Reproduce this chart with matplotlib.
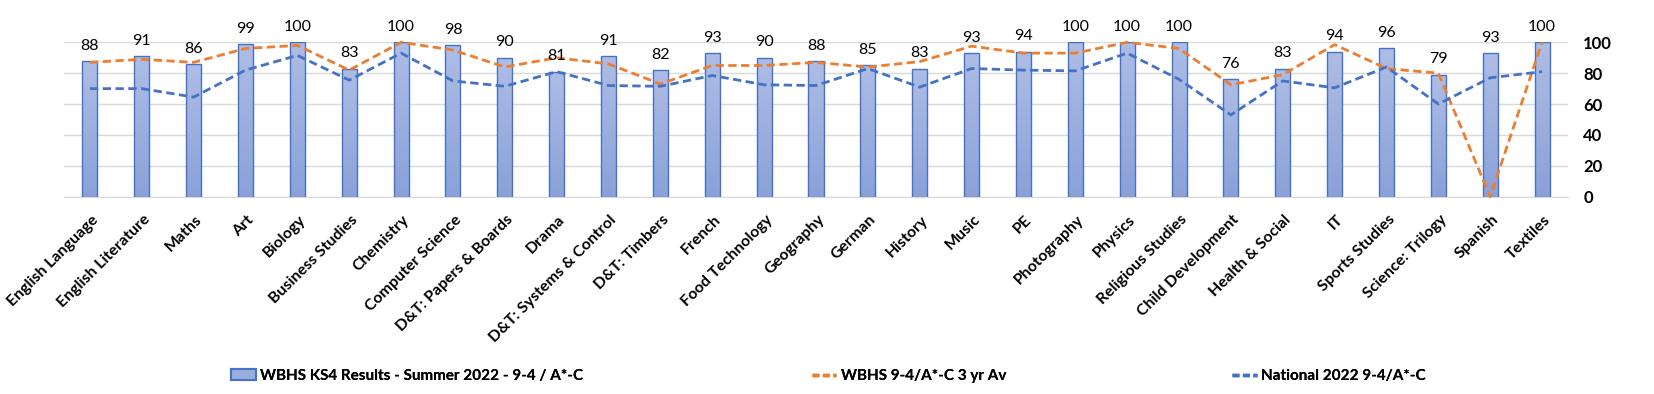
import matplotlib.pyplot as plt
from matplotlib.colors import LinearSegmentedColormap
from matplotlib.lines import Line2D
from matplotlib.patches import Patch
from matplotlib.transforms import ScaledTranslation
import numpy as np

subjects = ["English Language", "English Literature", "Maths", "Art", "Biology",
            "Business Studies", "Chemistry", "Computer Science", "D&T: Papers & Boards",
            "Drama", "D&T: Systems & Control", "D&T: Timbers", "French", "Food Technology",
            "Geography", "German", "History", "Music", "PE", "Photography", "Physics",
            "Religious Studies", "Child Development", "Health & Social", "IT",
            "Sports Studies", "Science: Trilogy", "Spanish", "Textiles"]
results_2022 = [88, 91, 86, 99, 100, 83, 100, 98, 90, 81, 91, 82, 93, 90, 88, 85, 83,
                93, 94, 100, 100, 100, 76, 83, 94, 96, 79, 93, 100]
wbhs_3yr = [87, 89, 87, 96, 98, 82, 100, 95, 84, 90, 86, 73, 85, 85, 87, 84, 87.5,
            97.5, 93, 93, 100, 96, 72.5, 79, 98.5, 83, 80, 0, 100]
national_2022 = [70, 70, 64.5, 82, 91.5, 75.5, 93, 75, 71.5, 81, 72, 71.5, 78.5, 72.5,
                 72, 83, 71, 83, 82, 81.5, 93, 76, 53, 75, 70.5, 84, 60, 77, 81]

series_names = ["WBHS KS4 Results - Summer 2022 - 9-4 / A*-C", "WBHS 9-4/A*-C 3 yr Av",
                "National 2022 9-4/A*-C"]

font = "Lato"

fig = plt.figure(figsize=(16.54, 3.94), dpi=100)
ax = fig.add_axes([0.0387, 0.5008, 0.9093, 0.3918])

x = np.arange(len(subjects))
bars = ax.bar(x, results_2022, width=0.29, color="#9aaedd", edgecolor="#4472c4",
              linewidth=1.0, zorder=2)

# vertical gradient inside each bar, like the Excel fill
grad = np.linspace(0, 1, 256).reshape(-1, 1)
cmap = LinearSegmentedColormap.from_list("barfill", ["#aebde5", "#8aa1d8"])
for b in bars:
    bx, by = b.get_x(), b.get_y()
    img = ax.imshow(grad, extent=(bx, bx + b.get_width(), by, by + b.get_height()),
                    aspect="auto", cmap=cmap, origin="upper", zorder=2.1)
    img.set_clip_path(b)
    b.set_facecolor("none")
    b.set_zorder(2.2)

ax.plot(x, wbhs_3yr, color="#ed7d31", linestyle=(0, (3, 1.6)), linewidth=2, zorder=3,
        clip_on=False)
ax.plot(x, national_2022, color="#4472c4", linestyle=(0, (3, 1.6)), linewidth=2, zorder=3)

for xi, v in zip(x, results_2022):
    ax.annotate(f"{v}", (xi, v), xytext=(0, 6), textcoords="offset points",
                ha="center", va="bottom", fontsize=11.5, family=font,
                annotation_clip=False)

ax.set_xlim(-0.5, len(subjects) - 0.5)
ax.set_ylim(0, 100)
ax.set_yticks(range(0, 101, 20))
ax.yaxis.tick_right()
ax.tick_params(axis="y", length=0, pad=11, labelsize=12)
for t in ax.get_yticklabels():
    t.set_fontweight("bold")
    t.set_family(font)
ax.yaxis.grid(True, color="#d9d9d9", linewidth=1)
ax.set_axisbelow(True)
for s in ["top", "left", "right"]:
    ax.spines[s].set_visible(False)
ax.spines["bottom"].set_color("#d9d9d9")

ax.set_xticks(x)
ax.set_xticklabels(subjects, rotation=45, ha="right", va="center", rotation_mode="anchor",
                   fontsize=11.4, fontweight="bold", family=font)
ax.tick_params(axis="x", length=0, pad=15)
shift = ScaledTranslation(6 / 100, 0, fig.dpi_scale_trans)
for t in ax.get_xticklabels():
    t.set_transform(t.get_transform() + shift)

# legend entries spread along the bottom, one legend per series
handles = [Patch(facecolor="#9aaedd", edgecolor="#4472c4", linewidth=1.5),
           Line2D([], [], color="#ed7d31", linestyle=(0, (2, 1)), linewidth=2.5),
           Line2D([], [], color="#4472c4", linestyle=(0, (2, 1)), linewidth=2.5)]
legend_x = [0.1397, 0.4909, 0.7449]
for h, name, lx in zip(handles, series_names, legend_x):
    leg = fig.legend([h], [name], loc="center left", bbox_to_anchor=(lx, 0.0457),
                     frameon=False, borderpad=0, borderaxespad=0, handlelength=1.6,
                     handletextpad=0.3,
                     prop={"family": font, "weight": "bold", "size": 11})
    fig.add_artist(leg)

fig.savefig("out.png", dpi=100)
